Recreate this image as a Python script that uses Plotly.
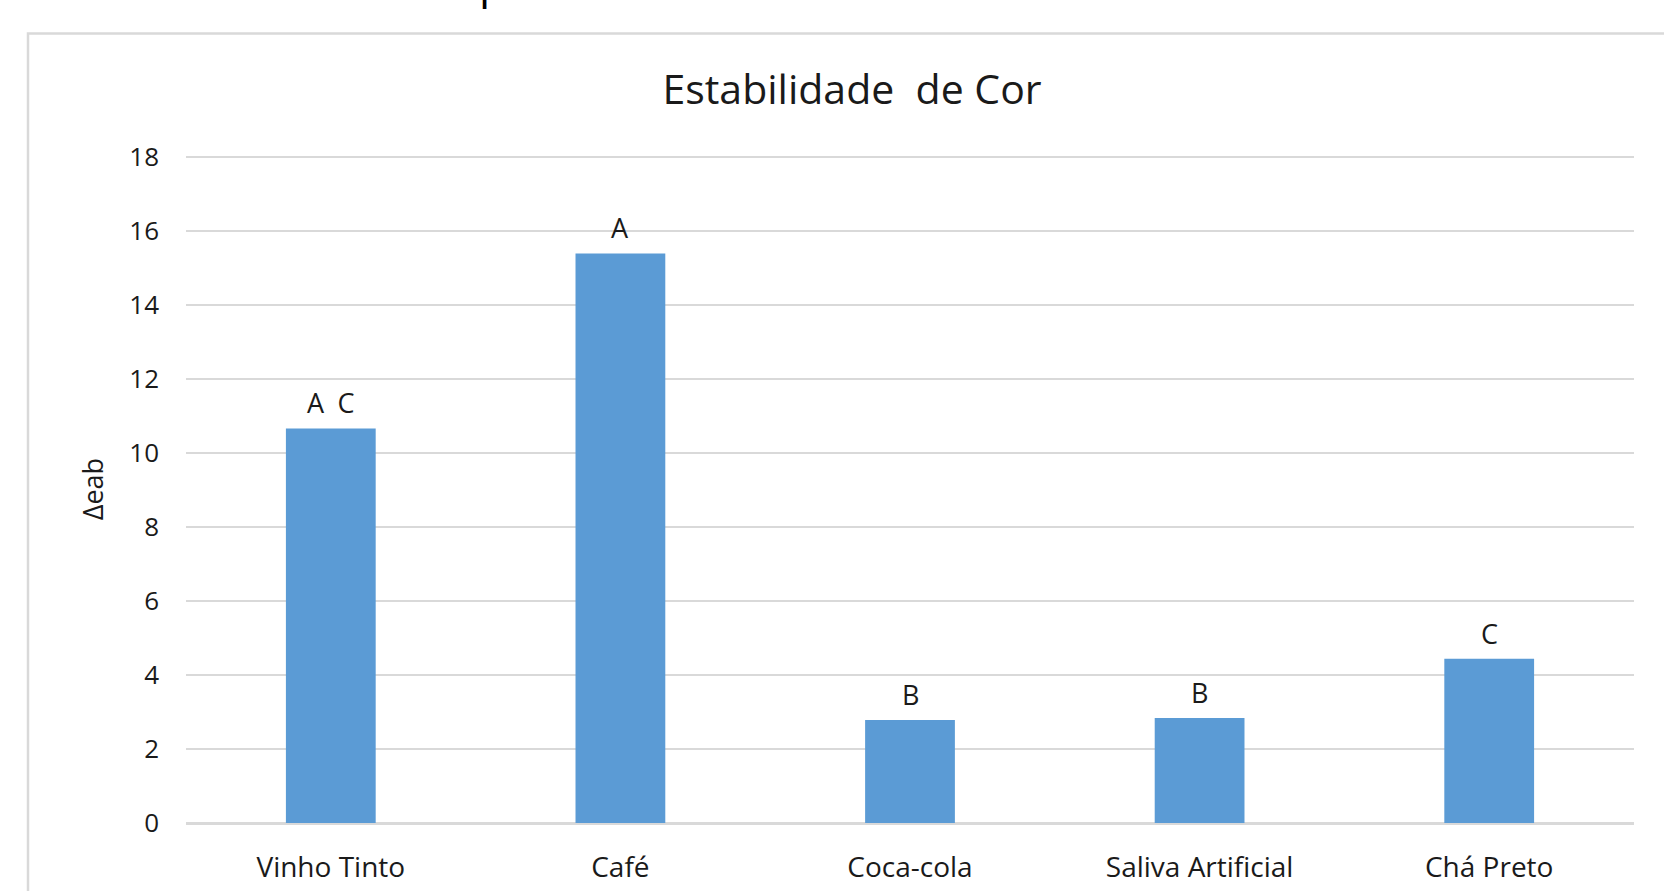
import plotly.graph_objects as go

categories = ["Vinho Tinto", "Café", "Coca-cola", "Saliva Artificial", "Chá Preto"]
values = [10.66, 15.39, 2.78, 2.84, 4.44]
letters = ["A C", "A", "B", "B", "C"]
y_ticks = [0, 2, 4, 6, 8, 10, 12, 14, 16, 18]

FONT = "Open Sans"
W, H = 1664, 891
Y_TOP = 18.05
L, R, B = 186, 30, 67.5
T = 157 - (Y_TOP - 18) * (891 - 157 - 67.5) / 18
pw, ph = W - L - R, H - T - B

def px_x(p):
    return (p - L) / pw

def px_y(p):
    return (H - B - p) / ph

fig = go.Figure()
fig.add_trace(go.Bar(
    x=categories, y=values, width=0.31,
    marker=dict(color="#5B9BD5", line=dict(width=0)),
    hoverinfo="x+y",
))

for c, v, t in zip(categories, values, letters):
    fig.add_annotation(x=c, y=v, text=t.replace(" ", "\u2002"), showarrow=False, yanchor="bottom",
                       yshift=5, font=dict(family=FONT, size=27, color="#1a1a1a"))

# partially visible text from above the chart
fig.add_annotation(xref="paper", yref="paper", x=px_x(477), y=px_y(13), text="p",
                   showarrow=False, xanchor="left", yanchor="bottom",
                   font=dict(family=FONT, size=44, color="#000000"))

fig.add_shape(type="rect", xref="paper", yref="paper",
              x0=px_x(28), x1=px_x(1700), y0=px_y(960), y1=px_y(33.5),
              line=dict(color="#d9d9d9", width=2.5), fillcolor="rgba(0,0,0,0)", layer="below")

fig.update_layout(
    width=W, height=H,
    margin=dict(l=L, r=R, t=T, b=B, autoexpand=False),
    paper_bgcolor="white", plot_bgcolor="white",
    title=dict(text="Estabilidade  de Cor", x=852 / W, xanchor="center",
               y=1 - 90 / H, yanchor="middle",
               font=dict(family=FONT, size=41, color="#1a1a1a")),
    showlegend=False,
    xaxis=dict(tickfont=dict(family=FONT, size=28, color="#1a1a1a"),
               showgrid=False, showline=False, ticks="", ticklabelstandoff=25),
    yaxis=dict(range=[0, Y_TOP], tickvals=y_ticks, showgrid=True, gridcolor="#d9d9d9",
               gridwidth=2, zeroline=True, zerolinecolor="#d9d9d9", zerolinewidth=2.5,
               showline=False, ticks="", ticklabelstandoff=26,
               tickfont=dict(family=FONT, size=26, color="#1a1a1a"),
               title=dict(text="Δeab", standoff=17,
                          font=dict(family=FONT, size=27, color="#1a1a1a"))),
)

fig.write_html("out.html", config={"displayModeBar": False},
               post_script="document.body.style.margin='0';document.body.style.overflow='hidden';")
